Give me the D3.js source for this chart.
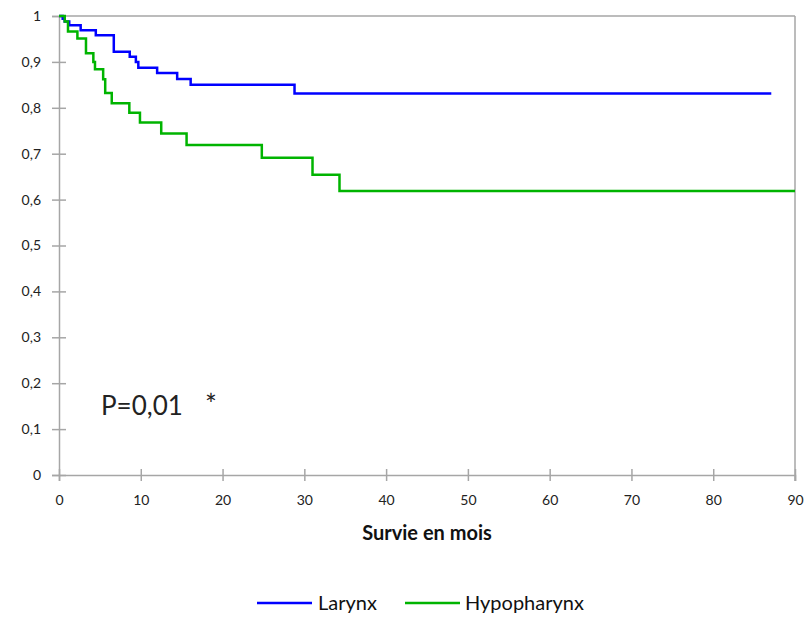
<!DOCTYPE html>
<html><head><meta charset="utf-8">
<script src="https://cdn.jsdelivr.net/npm/d3@7"></script>
<style>body{margin:0;background:#fff;} svg{display:block;}</style>
</head><body>
<svg id="c" width="807" height="620"></svg>
<script>
const xTicks = [0,10,20,30,40,50,60,70,80,90];
const yTicks = [0,0.1,0.2,0.3,0.4,0.5,0.6,0.7,0.8,0.9,1];
const larynxTime = [0, 0.45, 0.7, 1.25, 2.65, 4.5, 6.7, 8.65, 9.4, 9.7, 12.0, 14.45, 16.1, 28.8, 87.1];
const larynxSurv = [1, 0.994, 0.988, 0.980, 0.969, 0.958, 0.922, 0.911, 0.900, 0.887, 0.876, 0.863, 0.850, 0.831, 0.831];
const hypoTime = [0, 0.7, 1.1, 2.25, 3.3, 4.2, 4.4, 5.4, 5.65, 6.45, 8.6, 9.9, 12.5, 15.6, 24.8, 31.0, 34.3, 90];
const hypoSurv = [1, 0.988, 0.966, 0.951, 0.919, 0.900, 0.884, 0.862, 0.832, 0.810, 0.789, 0.768, 0.744, 0.719, 0.691, 0.654, 0.619, 0.619];
const seriesNames = ["Larynx", "Hypopharynx"];
const seriesColors = ["#0000ff", "#00b400"];
const xTitle = "Survie en mois";
const pText = "P=0,01";

const svg = d3.select("#c");
const x = d3.scaleLinear().domain([0,90]).range([59,795]);
const y = d3.scaleLinear().domain([0,1]).range([475,16]);
const font = "Lato, 'Open Sans', sans-serif";
const grey = "#a6a6a6";

// plot frame (top & right)
svg.append("line").attr("x1",x(0)).attr("x2",x(90)).attr("y1",y(1)).attr("y2",y(1)).attr("stroke",grey).attr("stroke-width",1.5);
svg.append("line").attr("x1",x(90)).attr("x2",x(90)).attr("y1",y(1)).attr("y2",y(0)+6).attr("stroke",grey).attr("stroke-width",1.5);

// y axis
const ya = svg.append("g").attr("transform",`translate(${x(0)},0)`)
  .call(d3.axisLeft(y).tickValues(yTicks).tickSize(7).tickPadding(7)
    .tickFormat(d => d3.format(".1f")(d).replace(".", ",").replace(/^0,0$/,"0").replace(/^1,0$/,"1")));
ya.selectAll(".domain").attr("stroke",grey).attr("stroke-width",1.5);
ya.selectAll(".tick line").attr("stroke",grey).attr("stroke-width",1.5).attr("x2",7).attr("x1",-7);
ya.selectAll(".tick text").attr("x",-18).style("font-family",font).style("font-size","14px").attr("fill","#222");

// x axis
const xa = svg.append("g").attr("transform",`translate(0,${y(0)})`)
  .call(d3.axisBottom(x).tickValues(xTicks).tickSize(6).tickPadding(10));
xa.selectAll(".domain").attr("stroke",grey).attr("stroke-width",1.5);
xa.selectAll(".tick line").attr("stroke",grey).attr("stroke-width",1.5).attr("y1",-6).attr("y2",6);
xa.selectAll(".tick text").attr("y",20).style("font-family",font).style("font-size","14px").attr("fill","#222");

// curves
const line = d3.line().x(d=>x(d[0])).y(d=>y(d[1])).curve(d3.curveStepAfter);
const series = [d3.zip(larynxTime, larynxSurv), d3.zip(hypoTime, hypoSurv)];
series.forEach((s,i)=>{
  svg.append("path").datum(s).attr("d",line).attr("fill","none")
    .attr("stroke",seriesColors[i]).attr("stroke-width",2.5);
});

// annotations
svg.append("text").attr("x",101).attr("y",415).text(pText)
  .style("font-family",font).style("font-size","26px").attr("fill","#222");
svg.append("text").attr("x",205).attr("y",415).text("*")
  .style("font-family",font).style("font-size","28px").attr("fill","#222");

// x title
svg.append("text").attr("x",427).attr("y",540).attr("text-anchor","middle").text(xTitle)
  .style("font-family",font).style("font-size","20px").style("font-weight","bold").attr("fill","#111");

// legend
const leg = [[257,318],[405,465]];
seriesNames.forEach((n,i)=>{
  svg.append("line").attr("x1",leg[i][0]).attr("x2",leg[i][0]+55).attr("y1",603).attr("y2",603)
    .attr("stroke",seriesColors[i]).attr("stroke-width",2.5);
  svg.append("text").attr("x",leg[i][1]).attr("y",610).text(n)
    .style("font-family",font).style("font-size","20px").attr("fill","#111");
});
</script>
</body></html>
